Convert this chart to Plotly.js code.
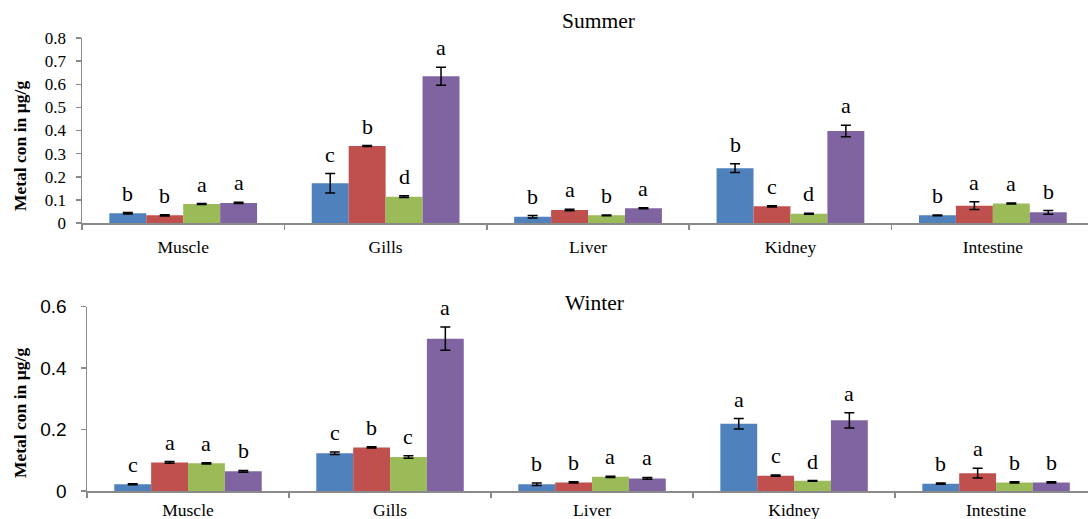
<!DOCTYPE html>
<html>
<head>
<meta charset="utf-8">
<script src="https://cdn.plot.ly/plotly-3.0.1.min.js"></script>
<style>html,body{margin:0;padding:0;background:#fff;}#chart{width:1088px;height:519px;}</style>
</head>
<body>
<div id="chart"></div>
<script>
const categories = ["Muscle", "Gills", "Liver", "Kidney", "Intestine"];
const seriesNames = ["Series 1", "Series 2", "Series 3", "Series 4"];
const colors = ["#4F81BD", "#C0504D", "#9BBB59", "#8064A2"];

// Summer
const summer1 = [0.042, 0.172, 0.027, 0.237, 0.033];
const summer2 = [0.033, 0.333, 0.056, 0.072, 0.075];
const summer3 = [0.082, 0.114, 0.033, 0.040, 0.084];
const summer4 = [0.087, 0.635, 0.064, 0.398, 0.046];
const summerErr1 = [0.003, 0.042, 0.005, 0.019, 0.002];
const summerErr2 = [0.003, 0.002, 0.003, 0.003, 0.017];
const summerErr3 = [0.002, 0.004, 0.002, 0.002, 0.002];
const summerErr4 = [0.003, 0.039, 0.002, 0.025, 0.008];
const summerLetters1 = ["b", "c", "b", "b", "b"];
const summerLetters2 = ["b", "b", "a", "c", "a"];
const summerLetters3 = ["a", "d", "b", "d", "a"];
const summerLetters4 = ["a", "a", "a", "a", "b"];

// Winter
const winter1 = [0.022, 0.123, 0.022, 0.219, 0.024];
const winter2 = [0.093, 0.142, 0.028, 0.050, 0.058];
const winter3 = [0.090, 0.111, 0.046, 0.033, 0.028];
const winter4 = [0.064, 0.496, 0.041, 0.230, 0.028];
const winterErr1 = [0.002, 0.004, 0.004, 0.017, 0.002];
const winterErr2 = [0.003, 0.002, 0.002, 0.002, 0.016];
const winterErr3 = [0.002, 0.004, 0.002, 0.001, 0.002];
const winterErr4 = [0.003, 0.038, 0.003, 0.025, 0.002];
const winterLetters1 = ["c", "c", "b", "a", "b"];
const winterLetters2 = ["a", "b", "b", "c", "a"];
const winterLetters3 = ["a", "c", "a", "d", "b"];
const winterLetters4 = ["b", "a", "a", "a", "b"];

const summerTicks = [0, 0.1, 0.2, 0.3, 0.4, 0.5, 0.6, 0.7, 0.8];
const summerTickText = ["0", "0.1", "0.2", "0.3", "0.4", "0.5", "0.6", "0.7", "0.8"];
const winterTicks = [0, 0.2, 0.4, 0.6];
const winterTickText = ["0", "0.2", "0.4", "0.6"];

const summerVals = [summer1, summer2, summer3, summer4];
const summerErrs = [summerErr1, summerErr2, summerErr3, summerErr4];
const summerLetters = [summerLetters1, summerLetters2, summerLetters3, summerLetters4];
const winterVals = [winter1, winter2, winter3, winter4];
const winterErrs = [winterErr1, winterErr2, winterErr3, winterErr4];
const winterLetters = [winterLetters1, winterLetters2, winterLetters3, winterLetters4];

const W = 1088, H = 519;
const bargap = 0.27;
const barW = (1 - bargap) / 4;
const serif = "Liberation Serif, Times New Roman, serif";
const sans = "Liberation Sans, Arial, sans-serif";
const axisGray = "#8a8a8a";

const traces = [];
const annotations = [];

function addPanel(vals, errs, letters, xa, ya) {
  vals.forEach((v, j) => {
    traces.push({
      type: "bar", x: categories.map((c, i) => i), y: v, name: seriesNames[j],
      xaxis: xa, yaxis: ya, showlegend: false,
      marker: {color: colors[j], line: {width: 0}},
      error_y: {type: "data", array: errs[j], visible: true, color: "#000", thickness: 1.5, width: 5}
    });
    v.forEach((val, i) => {
      annotations.push({
        xref: xa, yref: ya, x: i + (j - 1.5) * barW, y: val + errs[j][i],
        text: letters[j][i], showarrow: false, yanchor: "bottom", yshift: 5,
        font: {family: serif, size: 22, color: "#000"}
      });
    });
  });
}

addPanel(summerVals, summerErrs, summerLetters, "x", "y");
addPanel(winterVals, winterErrs, winterLetters, "x2", "y2");

function py(p) { return 1 - p / H; }

annotations.push({xref: "paper", yref: "paper", x: 598 / W, y: py(21), text: "Summer", showarrow: false,
  xanchor: "center", yanchor: "middle", font: {family: serif, size: 21.5, color: "#000"}});
annotations.push({xref: "paper", yref: "paper", x: 594 / W, y: py(303), text: "Winter", showarrow: false,
  xanchor: "center", yanchor: "middle", font: {family: serif, size: 21.5, color: "#000"}});
annotations.push({xref: "paper", yref: "paper", x: 20 / W, y: py(146), text: "<b>Metal con in µg/g</b>", showarrow: false,
  textangle: -90, xanchor: "center", yanchor: "middle", font: {family: serif, size: 17.5, color: "#000"}});
annotations.push({xref: "paper", yref: "paper", x: 20 / W, y: py(413), text: "<b>Metal con in µg/g</b>", showarrow: false,
  textangle: -90, xanchor: "center", yanchor: "middle", font: {family: serif, size: 17.5, color: "#000"}});

const xBase = {
  type: "linear", tickmode: "array", showgrid: false, zeroline: false,
  showline: true, linecolor: axisGray, linewidth: 1.5,
  ticks: "", tickfont: {family: serif, size: 17.5, color: "#000"}, fixedrange: true
};
const yBase = {
  showgrid: false, zeroline: false, showline: true, linecolor: axisGray, linewidth: 1.5,
  ticks: "outside", ticklen: 5, tickcolor: axisGray, tickwidth: 1.5, fixedrange: true, tickmode: "array"
};

const catIdx = categories.map((c, i) => i);
const boundaries = [-0.5, 0.5, 1.5, 2.5, 3.5, 4.5];
const minorTicks = {tickmode: "array", tickvals: boundaries, ticks: "outside", ticklen: 5, tickcolor: axisGray, tickwidth: 1.5};

const layout = {
  width: W, height: H, margin: {l: 0, r: 0, t: 0, b: 0},
  paper_bgcolor: "#fff", plot_bgcolor: "#fff",
  barmode: "group", bargap: bargap, bargroupgap: 0,
  showlegend: false,
  xaxis: Object.assign({}, xBase, {domain: [82 / W, 1], anchor: "y", range: [-0.5, 4.47],
    tickvals: catIdx, ticktext: categories, ticklabelstandoff: 7, minor: minorTicks}),
  yaxis: Object.assign({}, yBase, {domain: [py(223), py(38)], anchor: "x", range: [0, 0.8],
    tickvals: summerTicks, ticktext: summerTickText,
    tickfont: {family: serif, size: 17, color: "#000"}, ticklabelstandoff: 6}),
  xaxis2: Object.assign({}, xBase, {domain: [87 / W, 1], anchor: "y2", range: [-0.5, 4.455],
    tickvals: catIdx, ticktext: categories, ticklabelstandoff: 2, minor: minorTicks}),
  yaxis2: Object.assign({}, yBase, {domain: [py(491), py(306.7)], anchor: "x2", range: [0, 0.6],
    tickvals: winterTicks, ticktext: winterTickText,
    tickfont: {family: sans, size: 19, color: "#000"}, ticklabelstandoff: 10}),
  annotations: annotations
};

Plotly.newPlot("chart", traces, layout, {staticPlot: true, displayModeBar: false});
</script>
</body>
</html>
